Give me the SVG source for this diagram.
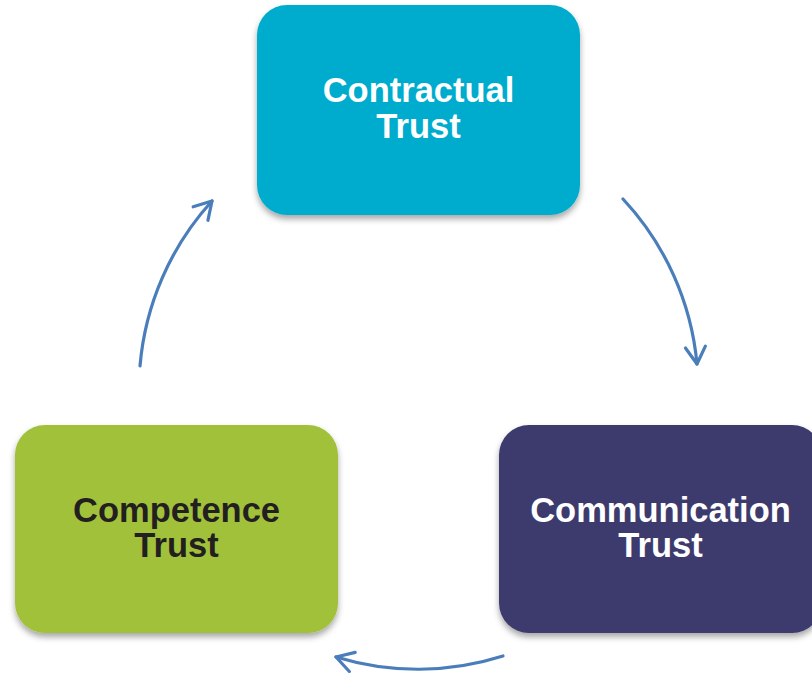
<svg xmlns="http://www.w3.org/2000/svg" width="812" height="673" viewBox="0 0 812 673">
  <style>
    .box { filter: url(#shadow); }
    .label { font-family: "Liberation Sans", Arial, sans-serif; font-weight: bold; font-size: 34.5px; text-anchor: middle; }
    .light { fill: #ffffff; }
    .dark { fill: #231f20; }
    .arc { fill: none; stroke: #4a7ebb; stroke-width: 3.2; stroke-linecap: round; marker-end: url(#head); }
  </style>
  <defs>
    <filter id="shadow" x="-10%" y="-10%" width="120%" height="130%">
      <feDropShadow dx="0" dy="4" stdDeviation="3" flood-color="#000" flood-opacity="0.35"/>
    </filter>
    <marker id="head" markerUnits="userSpaceOnUse" markerWidth="40" markerHeight="40" viewBox="-20 -20 40 40" refX="0" refY="0" orient="auto" overflow="visible">
      <path d="M-17,-10 L0,0 L-17,10" fill="none" stroke="#4a7ebb" stroke-width="3.2" stroke-linecap="round" stroke-linejoin="round"/>
    </marker>
  </defs>
  <rect width="812" height="673" fill="#ffffff"/>

  <!-- curved arrows running clockwise between the three boxes -->
  <g id="connectors">
    <path class="arc" d="M623,199 A280,280 0 0 1 697,364"/>
    <path class="arc" d="M503,656 A280,280 0 0 1 336,657"/>
    <path class="arc" d="M140,366 A280,280 0 0 1 212,201"/>
  </g>

  <g id="contractual">
    <rect class="box" x="257" y="5" width="323" height="210" rx="30" fill="#00accd"/>
    <text class="label light" x="418.5" y="102">Contractual</text>
    <text class="label light" x="418.5" y="138">Trust</text>
  </g>

  <g id="communication">
    <rect class="box" x="499" y="425" width="323" height="208" rx="30" fill="#3c3b6e"/>
    <text class="label light" x="660.5" y="522">Communication</text>
    <text class="label light" x="660.5" y="557">Trust</text>
  </g>

  <g id="competence">
    <rect class="box" x="15" y="425" width="323" height="208" rx="30" fill="#a2c13a"/>
    <text class="label dark" x="176.5" y="522">Competence</text>
    <text class="label dark" x="176.5" y="557">Trust</text>
  </g>
</svg>
